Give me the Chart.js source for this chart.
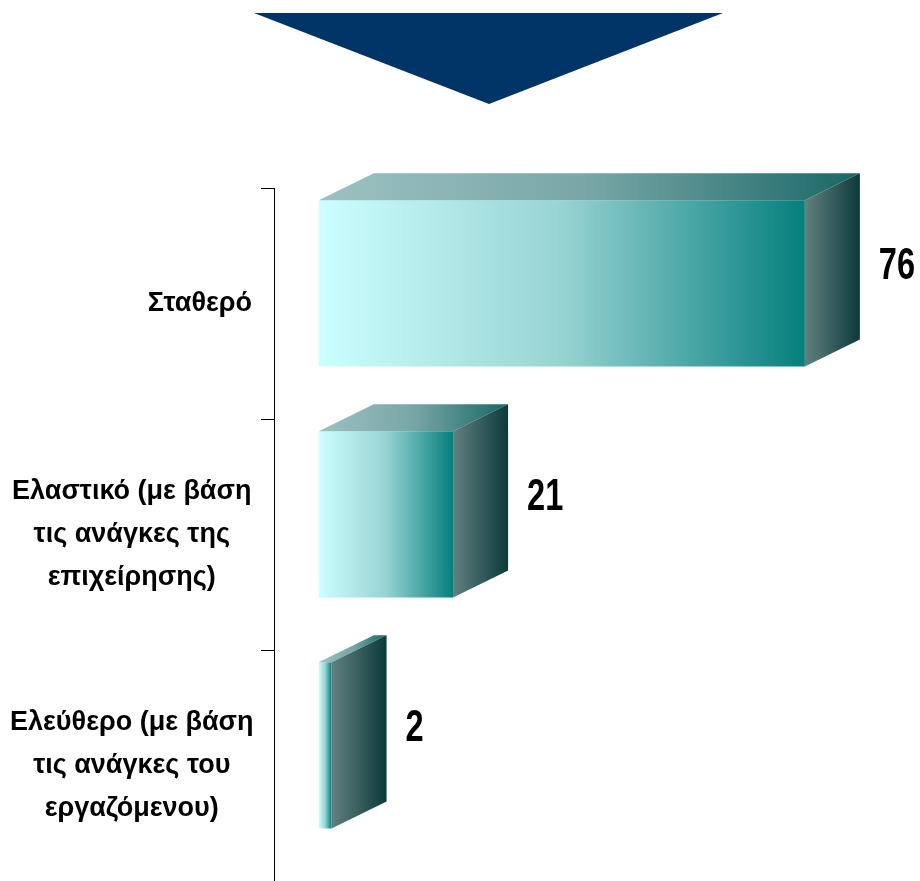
<!DOCTYPE html>
<html><head><meta charset="utf-8">
<script src="https://cdn.jsdelivr.net/npm/chart.js@4"></script>
<style>html,body{margin:0;padding:0;background:#fff}canvas{display:block}</style>
</head><body>
<canvas id="c" width="920" height="881"></canvas>
<script>
// ---- data ----
const categories = [
  ["Σταθερό"],
  ["Ελαστικό (με βάση", "τις ανάγκες της", "επιχείρησης)"],
  ["Ελεύθερο (με βάση", "τις ανάγκες του", "εργαζόμενου)"]
];
const values = [76, 21, 2];
const valueLabels = ["76", "21", "2"];

// ---- style ----
const DEPTH_X = 55, DEPTH_Y = 27;
const LABEL_FONT = { family: '"Liberation Sans", Arial, sans-serif', size: 27, weight: 'bold', lineHeight: 1.6 };

function hGrad(ctx, x0, x1, stops) {
  const g = ctx.createLinearGradient(x0, 0, x1, 0);
  stops.forEach(([o, c]) => g.addColorStop(o, c));
  return g;
}

const bar3d = {
  id: 'bar3d',
  beforeDraw(chart) {
    const ctx = chart.ctx;
    ctx.save();
    ctx.fillStyle = '#003366';
    ctx.beginPath();
    ctx.moveTo(254, 13); ctx.lineTo(723, 13); ctx.lineTo(489, 104);
    ctx.closePath(); ctx.fill();
    ctx.restore();
  },
  afterDatasetsDraw(chart) {
    const ctx = chart.ctx;
    const meta = chart.getDatasetMeta(0);
    meta.data.forEach((el, i) => {
      const p = el.getProps(['x', 'y', 'base', 'height'], true);
      if (![p.x, p.y, p.base, p.height].every(Number.isFinite)) return;
      const top = p.y - p.height / 2, bottom = p.y + p.height / 2;
      ctx.save();
      // top face
      ctx.fillStyle = hGrad(ctx, p.base, p.x + DEPTH_X, [[0, '#9DC1C1'], [0.5, '#78A6A6'], [1, '#1A6767']]);
      ctx.beginPath();
      ctx.moveTo(p.base, top);
      ctx.lineTo(p.base + DEPTH_X, top - DEPTH_Y);
      ctx.lineTo(p.x + DEPTH_X, top - DEPTH_Y);
      ctx.lineTo(p.x, top);
      ctx.closePath(); ctx.fill();
      // side face
      ctx.fillStyle = hGrad(ctx, p.x, p.x + DEPTH_X, [[0, '#638080'], [1, '#0C3A3A']]);
      ctx.beginPath();
      ctx.moveTo(p.x, top);
      ctx.lineTo(p.x + DEPTH_X, top - DEPTH_Y);
      ctx.lineTo(p.x + DEPTH_X, bottom - DEPTH_Y);
      ctx.lineTo(p.x, bottom);
      ctx.closePath(); ctx.fill();
      // value label (condensed bold)
      ctx.fillStyle = '#000';
      ctx.font = 'bold 44px "Liberation Sans", Arial, sans-serif';
      ctx.textAlign = 'left';
      ctx.textBaseline = 'middle';
      ctx.translate(p.x + DEPTH_X + 19, p.y - 17);
      ctx.scale(0.74, 1);
      ctx.fillText(valueLabels[i], 0, 0);
      ctx.restore();
    });
  }
};

new Chart(document.getElementById('c'), {
  type: 'bar',
  data: {
    labels: categories,
    datasets: [{
      data: values.map((v, i) => ({ x: v, y: i })),
      xAxisID: 'x',
      yAxisID: 'yb',
      categoryPercentage: 1,
      barPercentage: 0.72,
      borderWidth: 0,
      backgroundColor: (c) => {
        const xs = c.chart.scales.x;
        if (!xs || c.dataIndex === undefined) return '#66C0C0';
        const x0 = xs.getPixelForValue(0), x1 = xs.getPixelForValue(values[c.dataIndex]);
        if (!Number.isFinite(x0) || !Number.isFinite(x1) || x0 === x1) return '#66C0C0';
        return hGrad(c.chart.ctx, x0, x1, [[0, '#CCFFFF'], [0.5, '#98D3D3'], [1, '#057F7D']]);
      }
    }]
  },
  options: {
    indexAxis: 'y',
    responsive: false,
    animation: false,
    devicePixelRatio: 1,
    layout: { autoPadding: false, padding: { top: 188, left: 0, right: 0, bottom: 0 } },
    plugins: { legend: { display: false }, tooltip: { enabled: false } },
    scales: {
      x: { type: 'linear', display: false, min: -7, max: 94 },
      yb: {
        type: 'linear', axis: 'y', position: 'left', display: false, offset: false,
        reverse: true, min: -0.413, max: 2.587,
        afterBuildTicks(s) { s.ticks = values.map((v, i) => ({ value: i })); }
      },
      // axis line, tick marks and the single-line label (right aligned)
      y: {
        type: 'category', axis: 'y', position: 'left', offset: true, weight: 0,
        grid: { offset: true, drawOnChartArea: false, drawTicks: true, tickLength: 13, color: '#000', lineWidth: 1 },
        border: { display: true, color: '#000', width: 1 },
        ticks: {
          crossAlign: 'near', padding: 9, color: '#000', autoSkip: false,
          maxRotation: 0, minRotation: 0, font: LABEL_FONT,
          callback: (v, i) => categories[i].length === 1 ? categories[i] : ''
        },
        afterFit(s) { s.width = 274; s.paddingTop = 0; s.paddingBottom = 0; }
      },
      // multi-line labels, lines centred within the block
      y2: {
        type: 'category', axis: 'y', position: 'left', offset: true, weight: 10,
        grid: { display: false, drawOnChartArea: false, drawTicks: false },
        border: { display: false },
        ticks: {
          mirror: true, crossAlign: 'center', padding: 10, color: '#000', autoSkip: false,
          maxRotation: 0, minRotation: 0, font: LABEL_FONT,
          callback: (v, i) => categories[i].length > 1 ? categories[i] : ''
        },
        afterFit(s) { s.width = 0; s.paddingTop = 0; s.paddingBottom = 0; }
      }
    }
  },
  plugins: [bar3d]
});
</script>
</body></html>
